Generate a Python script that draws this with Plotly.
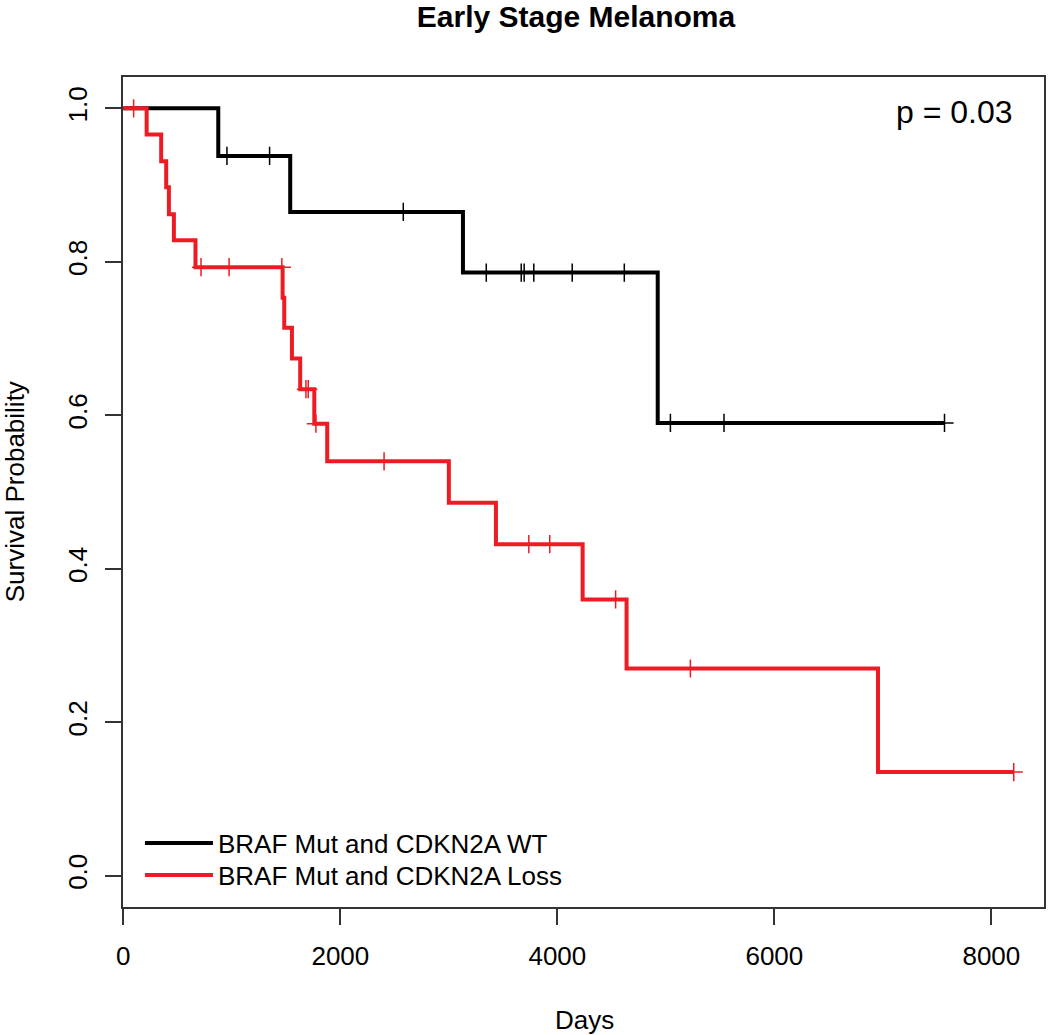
import numpy as np
import plotly.graph_objects as go

# ---- data ----
wt_times = [0, 875, 1538, 3130, 4925, 7568]
wt_surv = [1.0, 0.938, 0.865, 0.786, 0.590, 0.590]
wt_censor = [955, 1348, 2580, 3345, 3667, 3694, 3783, 4137, 4617, 5042, 5536, 7568]

loss_times = [0, 215, 349, 395, 420, 466, 665, 1468, 1483, 1554, 1630, 1760, 1879,
              3000, 3434, 4233, 4638, 6955, 8206]
loss_surv = [1.0, 0.966, 0.931, 0.897, 0.862, 0.828, 0.793, 0.753, 0.714, 0.674, 0.634,
             0.589, 0.540, 0.486, 0.432, 0.360, 0.270, 0.135, 0.135]
loss_censor = [95, 716, 975, 1461, 1683, 1704, 1775, 2403, 3737, 3930, 4537, 5226, 8206]

series_names = ["BRAF Mut and CDKN2A WT", "BRAF Mut and CDKN2A Loss"]
x_ticks = [0, 2000, 4000, 6000, 8000]
y_ticks = [0.0, 0.2, 0.4, 0.6, 0.8, 1.0]
p_text = "p = 0.03"

BLACK = "#000000"
RED = "#ED1C24"
FONT = "Liberation Sans, Arial, sans-serif"

W, H = 1050, 1035
ml, mt = 123, 77
pw, ph = 923, 830
mr, mb = W - ml - pw, H - mt - ph
bottom = mt + ph


def px_x(x):
    return (x - ml) / pw


def px_y(y):
    return (bottom - y) / ph


def step_lookup(times, surv, t):
    idx = np.searchsorted(np.asarray(times), np.asarray(t), side="right") - 1
    return np.asarray(surv)[idx]


fig = go.Figure()
legend_ids = ["legend", "legend2"]
for times, surv, cens, name, col, lg in [
    (wt_times, wt_surv, wt_censor, series_names[0], BLACK, legend_ids[0]),
    (loss_times, loss_surv, loss_censor, series_names[1], RED, legend_ids[1]),
]:
    fig.add_trace(go.Scatter(x=times, y=surv, mode="lines", line=dict(color=col, width=4, shape="hv"),
                             name=name, legend=lg))
    fig.add_trace(go.Scatter(x=cens, y=step_lookup(times, surv, cens), mode="markers",
                             marker=dict(symbol="cross-thin", size=13, line=dict(color=col, width=1.5)),
                             showlegend=False, hoverinfo="skip"))

leg_common = dict(xanchor="left", yanchor="middle", bgcolor="rgba(0,0,0,0)",
                  font=dict(size=26, family=FONT), itemwidth=68)
fig.update_layout(
    width=W, height=H,
    margin=dict(l=ml, r=mr, t=mt, b=mb),
    paper_bgcolor="white", plot_bgcolor="white",
    font=dict(family=FONT, size=26, color="black"),
    showlegend=True,
    legend=dict(x=px_x(140), y=px_y(843), **leg_common),
    legend2=dict(x=px_x(140), y=px_y(875), **leg_common),
    title=dict(text="<b>Early Stage Melanoma</b>", x=576 / W, xref="container", xanchor="center",
               y=1 - 16 / H, yanchor="middle", font=dict(size=30, family=FONT)),
)

fig.update_xaxes(range=[-3, 8485], tickvals=x_ticks, ticks="outside", ticklen=16, tickwidth=1.5,
                 tickcolor="#333", showline=True, linecolor="#333", linewidth=1.5, mirror=True,
                 showgrid=False, zeroline=False, ticklabelstandoff=9,
                 tickfont=dict(size=26))
fig.update_yaxes(range=[-0.0408, 1.0408], tickvals=y_ticks, tickformat=".1f", ticks="outside",
                 ticklen=16, tickwidth=1.5, tickcolor="#333", showline=True, linecolor="#333",
                 linewidth=1.5, mirror=True, showgrid=False, zeroline=False, tickangle=-90,
                 ticklabelstandoff=8, tickfont=dict(size=26))

fig.add_annotation(text="Days", xref="paper", yref="paper", x=px_x(586), y=px_y(1020),
                   xanchor="center", yanchor="middle", showarrow=False, font=dict(size=26))
fig.add_annotation(text="Survival Probability", xref="paper", yref="paper", x=px_x(15),
                   y=px_y(492), xanchor="center", yanchor="middle",
                   textangle=-90, showarrow=False, font=dict(size=26))
fig.add_annotation(text=p_text, xref="paper", yref="paper", x=px_x(1017), y=px_y(112),
                   xanchor="right", yanchor="middle", showarrow=False, font=dict(size=32))

fig.write_html("out.html", config={"displayModeBar": False},
               post_script="document.body.style.margin='0px';")
